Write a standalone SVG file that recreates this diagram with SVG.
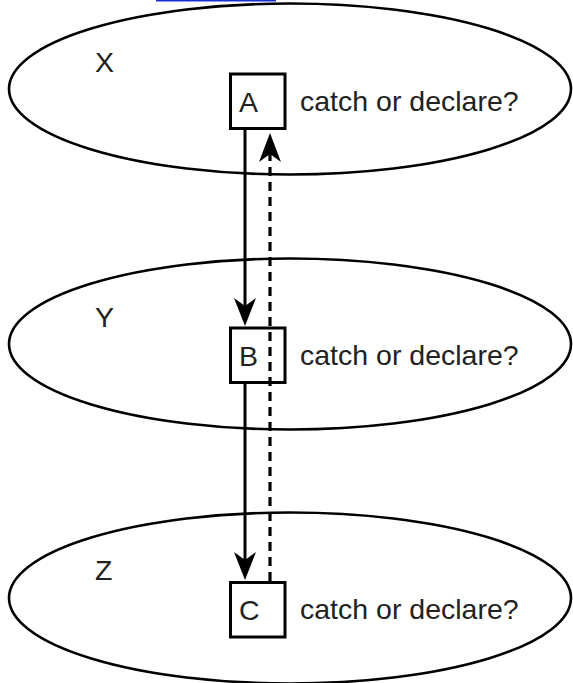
<svg xmlns="http://www.w3.org/2000/svg" width="573" height="683" viewBox="0 0 573 683">
<style>
.ell{fill:none;stroke:#000;stroke-width:2.6}
.box{fill:#fff;stroke:#000;stroke-width:3}
.t{font-family:"Liberation Sans",Arial,sans-serif;font-size:28.5px;fill:#222}
.solid{stroke:#000;stroke-width:3;fill:none}
.dash{stroke:#000;stroke-width:3.2;fill:none;stroke-dasharray:9 6}
.head{fill:#000;stroke:none}
</style>
<rect width="573" height="683" fill="#fff"/>
<rect x="156" y="0" width="120" height="1.5" fill="#1a2fd0"/>
<g id="X">
<ellipse class="ell" cx="290" cy="89" rx="281" ry="85.5"/>
<text class="t" x="95" y="72">X</text>
</g>
<g id="Y">
<ellipse class="ell" cx="290" cy="344" rx="281" ry="85.5"/>
<text class="t" x="95" y="327">Y</text>
</g>
<g id="Z">
<ellipse class="ell" cx="290" cy="598" rx="281" ry="85.5"/>
<text class="t" x="95" y="580">Z</text>
</g>
<g id="A">
<rect class="box" x="230.5" y="74" width="54.5" height="54.5"/>
<text class="t" x="239" y="111.5">A</text>
<text class="t" x="300" y="111">catch or declare?</text>
</g>
<g id="B">
<rect class="box" x="230.5" y="328" width="54.5" height="54.5"/>
<text class="t" x="239" y="365.5">B</text>
<text class="t" x="300" y="365">catch or declare?</text>
</g>
<g id="C">
<rect class="box" x="230.5" y="582.5" width="54.5" height="54.5"/>
<text class="t" x="239" y="620">C</text>
<text class="t" x="300" y="619">catch or declare?</text>
</g>
<g id="connectors">
<line class="solid" x1="245" y1="130" x2="245" y2="310"/>
<path class="head" d="M245,326 L234,298 L245,306 L256,298 Z"/>
<line class="solid" x1="245" y1="384" x2="245" y2="564"/>
<path class="head" d="M245,580 L234,552 L245,560 L256,552 Z"/>
<line class="dash" x1="270" y1="581" x2="270" y2="152"/>
<path class="head" d="M270,133 L259,162 L270,154 L281,162 Z"/>
</g>
</svg>
